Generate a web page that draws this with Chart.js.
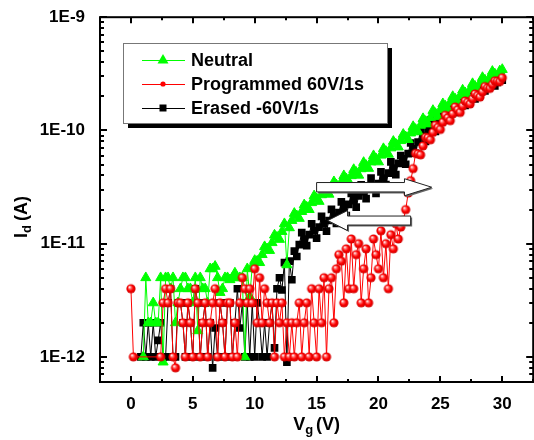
<!DOCTYPE html>
<html>
<head>
<meta charset="utf-8">
<script src="https://cdn.jsdelivr.net/npm/chart.js@4.4.0/dist/chart.umd.min.js"></script>
<style>
  html, body { margin: 0; padding: 0; background: #fff; overflow: hidden; }
  #wrap { width: 540px; height: 440px; }
</style>
</head>
<body>
<div id="wrap"><canvas id="chart" width="540" height="440"></canvas></div>
<script>
(function() {
	'use strict';

	// gate voltage (V)
	const VG = [
		0, 0.2, 0.4, 0.6, 0.8, 1, 1.2, 1.4, 1.6, 1.8,
		2, 2.2, 2.4, 2.6, 2.8, 3, 3.2, 3.4, 3.6, 3.8,
		4, 4.2, 4.4, 4.6, 4.8, 5, 5.2, 5.4, 5.6, 5.8,
		6, 6.2, 6.4, 6.6, 6.8, 7, 7.2, 7.4, 7.6, 7.8,
		8, 8.2, 8.4, 8.6, 8.8, 9, 9.2, 9.4, 9.6, 9.8,
		10, 10.2, 10.4, 10.6, 10.8, 11, 11.2, 11.4, 11.6, 11.8,
		12, 12.2, 12.4, 12.6, 12.8, 13, 13.2, 13.4, 13.6, 13.8,
		14, 14.2, 14.4, 14.6, 14.8, 15, 15.2, 15.4, 15.6, 15.8,
		16, 16.2, 16.4, 16.6, 16.8, 17, 17.2, 17.4, 17.6, 17.8,
		18, 18.2, 18.4, 18.6, 18.8, 19, 19.2, 19.4, 19.6, 19.8,
		20, 20.2, 20.4, 20.6, 20.8, 21, 21.2, 21.4, 21.6, 21.8,
		22, 22.2, 22.4, 22.6, 22.8, 23, 23.2, 23.4, 23.6, 23.8,
		24, 24.2, 24.4, 24.6, 24.8, 25, 25.2, 25.4, 25.6, 25.8,
		26, 26.2, 26.4, 26.6, 26.8, 27, 27.2, 27.4, 27.6, 27.8,
		28, 28.2, 28.4, 28.6, 28.8, 29, 29.2, 29.4, 29.6, 29.8,
		30
	];

	// drain current, in pA
	const NEUTRAL = [
		null, null, null, null, null, 1, 5, 2, 2, 3,
		2, 2, 5, 0.9, 5, 5, 4, 5, 2, 3,
		4, 5, 5, 4, 4, 3, 5, 1.7, 5, 4,
		4, 3, 6, 6, 6.3, 5, 3.7, 4, 5, 5,
		4.8, 5, 5.5, 5, 5, 5, 1, 6, 3.4, 6.3,
		7.1, 7, 6.8, 8, 9.4, 9, 8.7, 10.2, 11.9, 11.4,
		10.9, 12.8, 15, 6.5, 13.8, 16, 18.5, 17.6, 16.7, 19.2,
		22, 21, 20, 23, 26.4, 25, 23.6, 27, 30.8, 29,
		27.3, 31, 35.2, 33, 30.9, 35, 39.8, 37.4, 35.1, 39.8,
		45.1, 42.6, 40.2, 45.8, 52.1, 49, 46.2, 52.6, 59.8, 56.2,
		52.7, 60.4, 69, 65.2, 61.5, 70, 80, 75.6, 71.3, 81.2,
		92.3, 87.6, 82.9, 94.8, 108, 102, 97, 111, 127, 120,
		114, 130, 150, 141, 132, 152, 172, 164, 156, 177,
		199, 189, 180, 202, 227, 215, 204, 230, 259, 245,
		231, 261, 293, 278, 263, 295, 332, 315, 298, 335,
		345
	];

	const PROGRAMMED = [
		4, 1, null, null, null, null, null, null, null, null,
		null, null, 1, 3, 4, 3, 4, 1, 0.8, 3,
		3, 2, 1, 3, 2, 1, 4, 3, 1, 2,
		3, 1, 2, 3, 4, 1, 3, 2, 1, 3,
		3, 1, 2, 1, 3, 5, 4, 3, 4, 3,
		6, 2, 5, 2, 4, 3, 2, 3, 1, 3,
		2, 3, 1, 2, 1, 2, 1, 2, 3, 1,
		2, 3, 1, 4, 2, 1, 4, 2, 5, 1,
		4, 5, 2, 6, 8, 7, 3, 9, 4, 11,
		4, 8, 10, 3, 6, 9, 3, 5, 11, 8,
		6, 13, 5, 10, 4, 12, 9, 15, 11, 14,
		16, 20, 28, 36, 46, 62.7, 62, 60.9, 73, 86.9,
		86, 82.7, 96, 111, 106, 102, 118, 136, 129, 122,
		140, 161, 152, 144, 164, 182, 177, 171, 190, 210,
		203, 197, 219, 244, 236, 235, 254, 274, 272, 270,
		292
	];

	const ERASED = [
		null, null, null, null, 1, 2, 1, 2, 1, 2,
		1, 1.4, 2, 1, 1, 3, 4, 1, 1, 3,
		3, 2, 1, 3, 2, 1, 4, 3, 1, 2,
		3, 1, 2, 0.8, 1.8, 1, 3, 2, 1, 3,
		3, 1, 2, 4, 1.8, 3, 1, 3, 1, 3,
		1, 3, 2, 1, 2, 1, 2, 3, 1.2, 4,
		5, 3.9, 6.8, 0.9, 7, 4.8, 8.6, 7.7, 9.8, 12.5,
		11, 9.6, 12, 15, 13, 11.2, 14, 17.4, 15, 12.9,
		16, 20.1, 17.4, 15.1, 18.8, 23.4, 20.4, 17.7, 22.2, 27.8,
		24, 21, 26.4, 33.1, 28.8, 25, 30.8, 37.9, 32.4, 27.7,
		34, 43.1, 38, 33.3, 42, 52.8, 46.4, 40.7, 51.2, 60,
		56, 50.3, 62.4, 77.4, 68.8, 62.9, 79, 99, 89, 80,
		100, 124, 110, 98, 120, 138, 130, 123, 141, 161,
		152, 144, 164, 187, 176, 166, 189, 215, 202, 190,
		215, 233, 228, 223, 241, 260, 254, 247, 266, 286,
		278
	];

	const X_TICKS = [0, 5, 10, 15, 20, 25, 30];
	const Y_TICKS = [1e-12, 1e-11, 1e-10, 1e-9];
	const Y_LABELS = ['1E-12', '1E-11', '1E-10', '1E-9'];
	const SERIES = ['Neutral', 'Programmed 60V/1s', 'Erased -60V/1s'];

	const FONT = 'Arial, "Liberation Sans", sans-serif';
	const GREEN = '#00ff00', RED = '#ff0000', BLACK = '#000000';

	function toPoints(ys) {
		const pts = [];
		ys.forEach((v, i) => { if (v != null) pts.push({ x: VG[i], y: v * 1e-12 }); });
		return pts;
	}

	function sphere(r) {
		const c = document.createElement('canvas');
		const s = Math.ceil(r * 2) + 2;
		c.width = c.height = s;
		const g = c.getContext('2d');
		const m = s / 2;
		const grd = g.createRadialGradient(m - r * 0.35, m - r * 0.4, 0.2, m, m, r);
		grd.addColorStop(0, '#ffffff');
		grd.addColorStop(0.3, '#ff6a6a');
		grd.addColorStop(0.6, '#ff0000');
		grd.addColorStop(1, '#cc0000');
		g.fillStyle = grd;
		g.beginPath(); g.arc(m, m, r, 0, Math.PI * 2); g.fill();
		return c;
	}
	const ball = sphere(4.6);

	// axis frame with inward ticks, minor ticks, titles
	const frame = {
		id: 'frame',
		afterDatasetsDraw(chart) {
			const { ctx, chartArea: a, scales: { x, y } } = chart;
			ctx.save();
			ctx.strokeStyle = '#000';
			ctx.lineWidth = 2;
			ctx.strokeRect(a.left, a.top, a.right - a.left, a.bottom - a.top);
			ctx.beginPath();
			for (let v = -2.5; v <= 32.5; v += 2.5) {
				const px = Math.round(x.getPixelForValue(v));
				const len = (v % 5 === 0) ? 6 : 3;
				ctx.moveTo(px, a.bottom); ctx.lineTo(px, a.bottom - len);
				ctx.moveTo(px, a.top); ctx.lineTo(px, a.top + len);
			}
			for (let e = -13; e <= -9; e++) {
				for (let k = 1; k <= 9; k++) {
					const val = k * Math.pow(10, e);
					if (val < y.min * 0.999 || val > y.max * 1.001) continue;
					const py = Math.round(y.getPixelForValue(val));
					const len = k === 1 ? 7 : 4;
					ctx.moveTo(a.left, py); ctx.lineTo(a.left + len, py);
					ctx.moveTo(a.right, py); ctx.lineTo(a.right - len, py);
				}
			}
			ctx.stroke();

			// axis titles
			ctx.fillStyle = '#000';
			ctx.textBaseline = 'alphabetic';
			const big = 'bold 18px ' + FONT, small = 'bold 13px ' + FONT;
			ctx.font = big; const wV = ctx.measureText('V').width;
			const wP = ctx.measureText('(V)').width;
			ctx.font = small; const wg = ctx.measureText('g').width;
			let tx = (a.left + a.right) / 2 - (wV + wg + 3 + wP) / 2;
			const ty = 430;
			ctx.font = big; ctx.fillText('V', tx, ty);
			ctx.font = small; ctx.fillText('g', tx + wV, ty + 4);
			ctx.font = big; ctx.fillText('(V)', tx + wV + wg + 3, ty);

			ctx.translate(27, 217);
			ctx.rotate(-Math.PI / 2);
			ctx.font = big; const wI = ctx.measureText('I').width;
			const wA = ctx.measureText('(A)').width;
			ctx.font = small; const wd = ctx.measureText('d').width;
			tx = -(wI + wd + 4 + wA) / 2;
			ctx.font = big; ctx.fillText('I', tx, 0);
			ctx.font = small; ctx.fillText('d', tx + wI, 4);
			ctx.font = big; ctx.fillText('(A)', tx + wI + wd + 4, 0);
			ctx.restore();
		}
	};

	// hollow block arrows drawn in data coordinates
	const arrows = {
		id: 'arrows',
		afterDatasetsDraw(chart) {
			const { ctx, scales: { x, y } } = chart;
			const list = [
				{ from: 15.0, body: 22.1, tip: 24.3, at: 3.15e-11, bh: 4.7, hh: 8.5 },
				{ from: 22.6, body: 17.5, tip: 15.9, at: 1.6e-11, bh: 4.5, hh: 10 }
			];
			ctx.save();
			list.forEach(ar => {
				const x0 = x.getPixelForValue(ar.from), x1 = x.getPixelForValue(ar.body), x2 = x.getPixelForValue(ar.tip);
				const cy = y.getPixelForValue(ar.at);
				const path = (dx, dy) => {
					ctx.beginPath();
					ctx.moveTo(x0 + dx, cy - ar.bh + dy);
					ctx.lineTo(x1 + dx, cy - ar.bh + dy);
					ctx.lineTo(x1 + dx, cy - ar.hh + dy);
					ctx.lineTo(x2 + dx, cy + dy);
					ctx.lineTo(x1 + dx, cy + ar.hh + dy);
					ctx.lineTo(x1 + dx, cy + ar.bh + dy);
					ctx.lineTo(x0 + dx, cy + ar.bh + dy);
					ctx.closePath();
				};
				path(1.5, 1.5);
				ctx.fillStyle = '#666';
				ctx.fill();
				path(0, 0);
				ctx.fillStyle = '#fff';
				ctx.fill();
				ctx.lineWidth = 1;
				ctx.strokeStyle = '#222';
				ctx.stroke();
			});
			ctx.restore();
		}
	};

	const legendBox = {
		id: 'legendBox',
		afterDraw(chart) {
			const ctx = chart.ctx;
			const bx = 123, by = 43, bw = 264, bh = 80;
			ctx.save();
			ctx.fillStyle = '#000';
			ctx.fillRect(bx + 5, by + 5, bw, bh);
			ctx.fillStyle = '#fff';
			ctx.fillRect(bx, by, bw, bh);
			ctx.strokeStyle = '#777';
			ctx.lineWidth = 1;
			ctx.strokeRect(bx + 0.5, by + 0.5, bw, bh);
			const colors = [GREEN, RED, BLACK];
			SERIES.forEach((name, i) => {
				const ry = 60 + i * 24;
				ctx.strokeStyle = colors[i];
				ctx.lineWidth = 1;
				ctx.beginPath(); ctx.moveTo(142, ry + 0.5); ctx.lineTo(185, ry + 0.5); ctx.stroke();
				ctx.fillStyle = colors[i];
				ctx.beginPath();
				if (i === 0) {
					ctx.moveTo(163, ry - 6); ctx.lineTo(168.5, ry + 3.5); ctx.lineTo(157.5, ry + 3.5); ctx.closePath();
				} else if (i === 1) {
					ctx.arc(163, ry, 2.6, 0, Math.PI * 2);
				} else {
					ctx.rect(159.5, ry - 3.5, 7, 7);
				}
				ctx.fill();
				ctx.fillStyle = '#000';
				ctx.font = 'bold 18px ' + FONT;
				ctx.textBaseline = 'middle';
				ctx.fillText(name, 191, ry + 1);
			});
			ctx.restore();
		}
	};

	const tickFont = { family: FONT, size: 17, weight: 'bold' };

	new Chart(document.getElementById('chart').getContext('2d'), {
		type: 'scatter',
		data: {
			datasets: [
				{
					label: SERIES[0], data: toPoints(NEUTRAL), order: 1,
					showLine: true, borderColor: GREEN, borderWidth: 1,
					pointStyle: 'triangle', pointRadius: 5.8,
					pointBackgroundColor: GREEN, pointBorderColor: GREEN, pointBorderWidth: 1
				},
				{
					label: SERIES[1], data: toPoints(PROGRAMMED), order: 0,
					showLine: true, borderColor: RED, borderWidth: 1,
					pointStyle: ball, pointRadius: 4.6
				},
				{
					label: SERIES[2], data: toPoints(ERASED), order: 2,
					showLine: true, borderColor: BLACK, borderWidth: 1,
					pointStyle: 'rect', pointRadius: 5.4,
					pointBackgroundColor: BLACK, pointBorderColor: BLACK, pointBorderWidth: 0
				}
			]
		},
		options: {
			responsive: false,
			animation: false,
			devicePixelRatio: 1,
			layout: { padding: { top: 17, right: 3, left: 0, bottom: 0 } },
			plugins: { legend: { display: false }, tooltip: { enabled: false } },
			scales: {
				x: {
					type: 'linear', min: -2.5, max: 32.5,
					afterBuildTicks: s => { s.ticks = X_TICKS.map(v => ({ value: v })); },
					afterFit: s => { s.height = 58; },
					grid: { display: false }, border: { display: false },
					ticks: { font: tickFont, color: '#000', padding: 4, maxRotation: 0, autoSkip: false }
				},
				y: {
					type: 'logarithmic', min: 6.08e-13, max: 1e-9,
					afterBuildTicks: s => { s.ticks = Y_TICKS.map(v => ({ value: v })); },
					afterFit: s => { s.width = 100; },
					grid: { display: false }, border: { display: false },
					ticks: { font: tickFont, color: '#000', padding: 7, autoSkip: false,
						callback: (v, i) => Y_LABELS[i] }
				}
			}
		},
		plugins: [frame, arrows, legendBox]
	});
})();
</script>
</body>
</html>
